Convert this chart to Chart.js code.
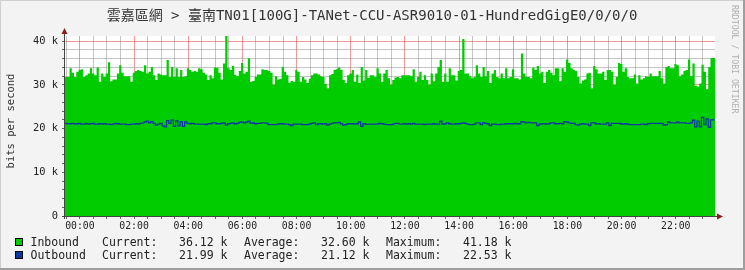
<!DOCTYPE html>
<html>
<head>
<meta charset="utf-8">
<script src="https://cdn.jsdelivr.net/npm/chart.js@4.4.1/dist/chart.umd.min.js"></script>
<style>
  html, body { margin: 0; padding: 0; background: #f3f3f3; }
  #wrap { width: 745px; height: 270px; }
</style>
</head>
<body>
<div id="wrap"><canvas id="graph" width="745" height="270"></canvas></div>
<script>
// 5-minute samples, k bits/s (288 each)
const inboundK = [
  33.3,31.8,31.8,33.8,32.8,31.8,33.0,33.4,33.6,31.8,
  32.2,32.6,33.8,32.6,32.2,34.0,30.7,32.6,31.8,32.6,
  35.2,30.8,31.2,31.2,32.6,34.5,32.8,32.0,32.0,32.0,
  30.7,32.8,33.2,33.4,33.2,33.0,34.5,32.6,33.0,34.1,
  32.2,31.1,32.6,32.4,32.2,32.2,35.7,31.8,34.1,31.8,
  33.8,31.8,33.4,31.8,32.0,33.8,33.4,33.0,
  33.2,33.0,33.8,33.6,32.8,32.4,31.1,32.2,31.5,34.0,
  33.9,32.8,31.2,34.9,41.18,33.8,33.4,34.3,32.3,32.0,
  33.2,35.0,32.6,33.0,36.1,30.7,30.9,31.8,32.4,32.4,
  33.6,33.4,33.4,33.2,32.8,30.0,32.0,31.2,31.4,34.1,
  33.0,32.2,30.5,30.9,30.7,33.4,33.0,30.7,31.8,31.2,
  30.4,31.4,32.2,32.6,32.6,32.4,32.0,31.8,
  30.2,29.2,32.2,32.5,33.4,33.6,34.0,33.4,31.1,30.4,
  32.2,32.6,33.4,30.7,32.4,30.4,34.1,31.0,33.4,31.6,
  32.2,32.2,31.8,33.8,32.6,30.7,32.6,33.4,31.5,30.0,
  31.1,31.7,31.8,31.5,32.2,32.2,32.2,32.2,32.0,33.6,
  30.7,31.8,33.0,31.1,32.2,31.1,30.0,32.6,30.8,32.6,
  34.1,35.7,30.7,32.6,30.7,33.8,32.2,32.2,
  31.0,33.2,33.4,40.5,32.6,32.6,32.0,31.5,31.8,34.5,
  32.6,31.8,34.1,32.0,33.2,30.4,32.6,33.4,31.8,31.5,
  32.6,31.5,33.8,31.5,31.8,33.6,31.5,31.5,31.2,37.2,
  32.6,31.8,31.8,31.5,34.0,33.4,34.3,32.6,33.0,30.4,
  33.0,33.4,32.8,32.2,33.8,33.8,30.8,33.8,33.0,35.8,
  35.0,33.8,33.4,33.2,31.8,30.3,31.0,31.2,
  32.6,32.8,29.2,34.3,33.6,32.6,32.6,33.0,31.1,33.4,
  33.4,33.0,30.0,31.8,35.0,34.8,33.0,33.8,31.8,31.5,
  31.5,32.4,30.3,32.2,31.2,31.5,32.0,31.8,32.6,32.0,
  32.0,32.0,33.2,31.5,30.3,34.1,34.3,33.8,33.8,34.8,
  34.5,32.0,32.4,33.2,33.4,35.8,32.0,34.9,29.8,29.6,
  30.3,34.6,33.0,29.0,34.1,36.12
];
const outboundK = [
  21.0,21.2,21.1,21.1,21.2,21.0,21.1,21.2,21.0,21.0,
  21.2,21.0,21.1,21.2,21.0,21.0,21.1,21.0,21.1,21.0,
  21.0,20.9,21.0,21.2,21.1,21.0,21.0,21.0,20.9,20.9,
  21.0,21.0,21.1,21.0,21.2,21.3,21.5,21.7,21.3,21.6,
  21.2,20.8,21.0,21.2,20.6,20.4,21.8,21.2,22.0,20.5,
  21.8,20.6,21.6,20.5,21.5,21.2,21.1,21.2,
  21.0,21.0,21.0,21.0,21.0,20.9,21.1,21.1,21.3,21.3,
  21.1,21.1,21.2,21.3,20.8,21.1,21.2,21.3,21.1,21.2,
  21.4,21.5,21.3,21.5,21.7,21.2,21.3,21.1,21.2,21.2,
  21.3,21.3,21.2,20.9,20.9,20.9,20.9,21.0,21.1,21.1,
  21.0,21.0,20.9,20.7,21.0,21.0,21.0,21.0,20.9,20.9,
  20.9,21.0,21.2,21.3,20.9,21.1,21.1,21.0,
  21.1,20.8,21.0,21.2,21.3,21.3,21.4,21.1,20.8,20.9,
  21.1,21.1,21.1,21.0,21.1,21.5,20.5,21.1,21.0,21.0,
  21.0,21.0,21.0,21.0,21.2,21.1,21.0,20.9,20.9,20.9,
  21.0,21.2,21.2,21.0,21.0,21.1,21.0,21.1,21.0,21.2,
  21.0,21.0,21.0,21.0,20.9,21.0,21.0,21.0,21.1,21.0,
  21.0,21.7,21.0,21.1,21.3,21.1,21.0,21.0,
  21.1,21.1,21.2,21.3,21.2,21.0,20.9,20.9,21.0,21.3,
  21.3,20.9,21.3,21.2,21.1,20.7,21.0,21.0,20.9,20.9,
  21.0,21.0,21.1,21.1,21.1,21.1,21.2,21.1,21.1,21.6,
  21.5,21.3,21.4,21.3,21.3,21.3,20.7,21.0,21.1,21.1,
  21.0,21.1,21.3,21.3,21.1,21.1,21.2,21.1,21.6,21.5,
  21.3,21.2,21.2,20.9,20.8,21.0,21.1,21.0,
  21.0,20.7,21.3,21.3,21.1,21.1,21.0,21.0,21.0,21.3,
  20.7,21.2,21.2,21.2,21.2,21.1,21.0,21.1,21.0,20.9,
  20.9,20.9,20.9,20.9,21.0,21.0,20.9,21.1,21.2,21.2,
  21.2,21.2,21.2,21.2,20.8,20.9,21.5,21.3,21.3,21.3,
  21.5,21.3,21.3,21.3,21.2,21.2,21.3,21.9,20.4,21.7,
  20.4,22.53,20.9,22.2,20.3,21.99
];

const xTickLabels = ['00:00','02:00','04:00','06:00','08:00','10:00','12:00','14:00','16:00','18:00','20:00','22:00'];
const yTickLabels = ['0', '10 k', '20 k', '30 k', '40 k'];

const seriesNames = ['Inbound', 'Outbound'];
const currentText = ['36.12 k', '21.99 k'];
const averageText = ['32.60 k', '21.12 k'];
const maximumText = ['41.18 k', '22.53 k'];

const titleText = '雲嘉區網 > 臺南TN01[100G]-TANet-CCU-ASR9010-01-HundredGigE0/0/0/0';

// time axis in minutes from midnight; window starts 33 min before 00:00
const startMin = -33;
const stepMin = 5;
const endMin = startMin + stepMin * inboundK.length;

const IN_COLOR = '#00cc00';
const OUT_COLOR = '#0b3a9e';
const MONO = '"DejaVu Sans Mono", "Noto Sans CJK TC", monospace';

function toPoints(arr) {
    const pts = arr.map((v, i) => ({ x: startMin + i * stepMin, y: v }));
    pts.push({ x: endMin, y: arr[arr.length - 1] });  // close last step
    return pts;
}

// grid sits under the data, so it only shows on the white part
const gridMinor = 'rgba(140,140,140,0.5)';
const gridMajor = 'rgba(230,70,70,0.55)';

const rrdFrame = {
    id: 'rrdFrame',
    beforeDraw(chart) {
        const c = chart.ctx, W = chart.width, H = chart.height, a = chart.chartArea;
        c.save();
        c.fillStyle = '#f3f3f3';
        c.fillRect(0, 0, W, H);
        c.fillStyle = '#cfcfcf';
        c.fillRect(0, 0, W, 1);
        c.fillRect(0, 0, 1, H);
        c.fillStyle = '#9e9e9e';
        c.fillRect(W - 2, 0, 2, H);
        c.fillRect(0, H - 2, W, 2);
        c.fillStyle = '#ffffff';
        c.fillRect(a.left, a.top, a.right - a.left, a.bottom - a.top);
        c.restore();
    },
    afterDraw(chart) {
        const c = chart.ctx, a = chart.chartArea;
        c.save();
        // axes
        c.strokeStyle = '#444';
        c.lineWidth = 1;
        c.beginPath();
        c.moveTo(a.left - 0.5, a.bottom + 3);
        c.lineTo(a.left - 0.5, a.top - 3);
        c.moveTo(a.left - 3, a.bottom + 0.5);
        c.lineTo(a.right + 3, a.bottom + 0.5);
        c.stroke();
        // arrows
        c.fillStyle = '#8a1c1c';
        c.beginPath();
        c.moveTo(a.left - 0.5, a.top - 8);
        c.lineTo(a.left - 3.5, a.top - 2);
        c.lineTo(a.left + 2.5, a.top - 2);
        c.closePath();
        c.fill();
        c.beginPath();
        c.moveTo(a.right + 8, a.bottom + 0.5);
        c.lineTo(a.right + 2, a.bottom - 2.5);
        c.lineTo(a.right + 2, a.bottom + 3.5);
        c.closePath();
        c.fill();

        // title
        c.fillStyle = '#333';
        c.font = '14px ' + MONO;
        c.textAlign = 'center';
        c.textBaseline = 'alphabetic';
        c.fillText(titleText, 372, 19.5);

        // y axis title
        c.save();
        c.translate(11, 121);
        c.rotate(-Math.PI / 2);
        c.font = '10.5px ' + MONO;
        c.textBaseline = 'middle';
        c.fillText('bits per second', 0, 0);
        c.restore();

        // watermark on the right
        c.save();
        c.translate(734, 5);
        c.rotate(Math.PI / 2);
        c.font = '8.2px ' + MONO;
        c.fillStyle = '#b0b0b0';
        c.textAlign = 'left';
        c.textBaseline = 'middle';
        c.fillText('RRDTOOL / TOBI OETIKER', 0, 0);
        c.restore();

        // legend
        const colors = [IN_COLOR, OUT_COLOR];
        const rows = [246, 259];
        c.font = '11.5px ' + MONO;
        c.textAlign = 'left';
        c.textBaseline = 'alphabetic';
        seriesNames.forEach((name, i) => {
            const by = rows[i] - 8;
            c.fillStyle = colors[i];
            c.fillRect(15, by, 8, 8);
            c.strokeStyle = '#000';
            c.strokeRect(15.5, by + 0.5, 7, 7);
            c.fillStyle = '#222';
            c.fillText(name, 30.5, rows[i]);
            c.fillText('Current:', 102, rows[i]);
            c.fillText(currentText[i], 179, rows[i]);
            c.fillText('Average:', 244, rows[i]);
            c.fillText(averageText[i], 321, rows[i]);
            c.fillText('Maximum:', 386, rows[i]);
            c.fillText(maximumText[i], 463, rows[i]);
        });
        c.restore();
    }
};

new Chart(document.getElementById('graph'), {
    type: 'line',
    data: {
        datasets: [
            {
                label: seriesNames[0],
                data: toPoints(inboundK),
                stepped: 'after',
                fill: 'origin',
                backgroundColor: IN_COLOR,
                borderColor: 'rgba(0,0,0,0)',
                borderWidth: 0,
                pointRadius: 0,
                order: 2
            },
            {
                label: seriesNames[1],
                data: toPoints(outboundK),
                stepped: 'after',
                fill: false,
                borderColor: OUT_COLOR,
                borderWidth: 1.3,
                pointRadius: 0,
                order: 1
            }
        ]
    },
    options: {
        responsive: false,
        animation: false,
        events: [],
        layout: { padding: { top: 36, right: 30, left: 0, bottom: 0 } },
        plugins: { legend: { display: false }, tooltip: { enabled: false } },
        scales: {
            x: {
                type: 'linear',
                min: startMin,
                max: endMin,
                afterBuildTicks: s => {
                    const t = [];
                    for (let v = -30; v < endMin; v += 30) t.push({ value: v });
                    s.ticks = t;
                },
                afterFit: s => { s.height = 54; },
                border: { display: false },
                grid: {
                    color: ctx => (ctx.tick && ctx.tick.value % 120 === 0) ? gridMajor : gridMinor,
                    lineWidth: 1,
                    borderDash: [1, 1],
                    tickLength: 3,
                    tickColor: '#666',
                    tickBorderDash: []
                },
                ticks: {
                    autoSkip: false,
                    maxRotation: 0,
                    padding: 2,
                    color: '#222',
                    font: { family: MONO, size: 9.8 },
                    callback: v => (v >= 0 && v % 120 === 0) ? xTickLabels[v / 120] : ''
                }
            },
            y: {
                min: 0,
                max: 41.18,
                afterBuildTicks: s => {
                    const t = [];
                    for (let v = 0; v <= 40; v += 2) t.push({ value: v });
                    s.ticks = t;
                },
                afterFit: s => { s.width = 65; },
                border: { display: false },
                grid: {
                    color: ctx => (ctx.tick && ctx.tick.value % 10 === 0) ? gridMajor : gridMinor,
                    lineWidth: 1,
                    borderDash: [1, 1],
                    tickLength: 3,
                    tickColor: '#666',
                    tickBorderDash: []
                },
                ticks: {
                    autoSkip: false,
                    padding: 4,
                    color: '#222',
                    font: { family: MONO, size: 10.4 },
                    callback: v => (v % 10 === 0) ? yTickLabels[v / 10] : ''
                }
            }
        }
    },
    plugins: [rrdFrame]
});
</script>
</body>
</html>
